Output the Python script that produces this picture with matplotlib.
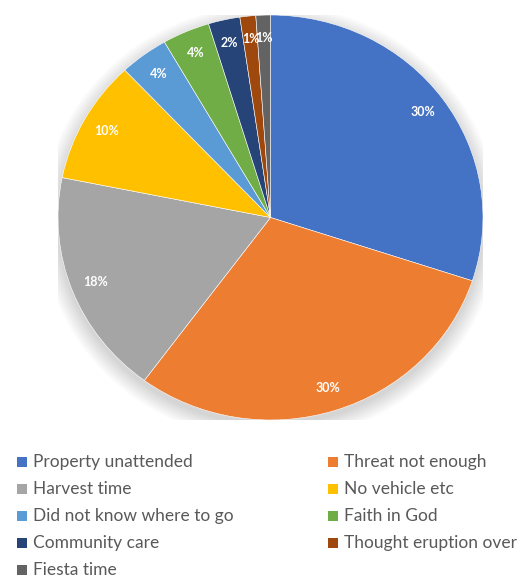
import matplotlib
matplotlib.use("Agg")
import matplotlib.pyplot as plt
from matplotlib.patches import Ellipse, Rectangle

# Reasons for not evacuating (share of respondents, %)
reasons = [
    "Property unattended",
    "Threat not enough",
    "Harvest time",
    "No vehicle etc",
    "Did not know where to go",
    "Faith in God",
    "Community care",
    "Thought eruption over",
    "Fiesta time",
]
shares = [30.0, 30.0, 18.0, 9.8, 3.7, 3.6, 2.4, 1.2, 1.1]
colors = ["#4472C4", "#ED7D31", "#A5A5A5", "#FFC000", "#5B9BD5",
          "#70AD47", "#264478", "#9E480E", "#636363"]

W, H = 521, 578
fig = plt.figure(figsize=(W / 100, H / 100), dpi=100)
fig.patch.set_facecolor("white")

# pie area in pixel terms (slightly wider than tall)
cx, cy, rx, ry = 270.5, 217.5, 212.5, 202.5
ax = fig.add_axes([(cx - rx) / W, (H - cy - ry) / H, 2 * rx / W, 2 * ry / H])

# soft drop shadow under the pie
for i in range(14):
    s = 1.0 + 0.006 * i
    ax.add_patch(Ellipse((0, -0.025), 2 * s, 2 * s, facecolor="#000000",
                         alpha=0.010, edgecolor="none", zorder=0))

wedges, texts, autotexts = ax.pie(
    shares, colors=colors, startangle=90, counterclock=False,
    autopct="%1.0f%%", pctdistance=0.885,
    wedgeprops=dict(edgecolor="white", linewidth=0.4),
    textprops=dict(color="white", fontsize=9, fontweight="bold",
                   family=["Lato", "DejaVu Sans"]),
)
for w in wedges:
    w.set_zorder(2)
for t in autotexts:
    t.set_zorder(3)
ax.set_aspect("auto")
ax.set_xlim(-1, 1)
ax.set_ylim(-1, 1)
ax.axis("off")

# two-column legend, filled row by row
col_x = [17, 328]
row_y0, row_dy = 462, 27.0
sq = 10
for i, (lab, col) in enumerate(zip(reasons, colors)):
    r, c = divmod(i, 2)
    x = col_x[c]
    y = row_y0 + r * row_dy
    fig.patches.append(Rectangle((x / W, (H - y - sq / 2) / H), sq / W, sq / H,
                                 transform=fig.transFigure, facecolor=col,
                                 edgecolor="none"))
    fig.text((x + sq + 6) / W, (H - y) / H, lab, fontsize=12.5, color="#595959",
             va="center", ha="left", family=["Lato", "DejaVu Sans"])

fig.savefig("out.png", dpi=100, facecolor="white")
